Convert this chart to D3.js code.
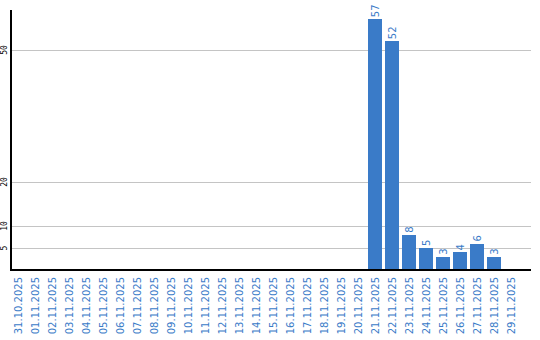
<!DOCTYPE html>
<html>
<head>
<meta charset="utf-8">
<script src="https://cdn.jsdelivr.net/npm/d3@7"></script>
<style>
  body { margin: 0; background: #fff; }
  svg { display: block; }
</style>
</head>
<body>
<svg id="canvas" width="540" height="340"></svg>
<script>
// dates on the x axis
let dates = ['31.10.2025', '01.11.2025', '02.11.2025', '03.11.2025', '04.11.2025',
  '05.11.2025', '06.11.2025', '07.11.2025', '08.11.2025', '09.11.2025',
  '10.11.2025', '11.11.2025', '12.11.2025', '13.11.2025', '14.11.2025',
  '15.11.2025', '16.11.2025', '17.11.2025', '18.11.2025', '19.11.2025',
  '20.11.2025', '21.11.2025', '22.11.2025', '23.11.2025', '24.11.2025',
  '25.11.2025', '26.11.2025', '27.11.2025', '28.11.2025', '29.11.2025']
let counts = [0, 0, 0, 0, 0, 0, 0, 0, 0, 0,
  0, 0, 0, 0, 0, 0, 0, 0, 0, 0,
  0, 57, 52, 8, 5, 3, 4, 6, 3, 0]
let yTicks = [5, 10, 20, 50]

let blue = '#3a7bc8'
let canvas = d3.select('#canvas')

let plotLeft = 11, plotRight = 531, plotTop = 10, plotBottom = 270

let x = d3.scaleBand()
  .domain(dates)
  .range([plotLeft, 518])
  .paddingInner(3 / 17)
  .paddingOuter(0)

let y = d3.scaleLinear()
  .domain([0, 59])
  .range([plotBottom, plotBottom - 59 * 4.4])

// grid lines
canvas.append('g')
  .selectAll('line')
  .data(yTicks)
  .enter()
  .append('line')
  .attr('x1', plotLeft)
  .attr('x2', plotRight)
  .attr('y1', d => Math.round(y(d)) + 0.5)
  .attr('y2', d => Math.round(y(d)) + 0.5)
  .attr('stroke', '#c4c4c4')
  .attr('stroke-width', 1)

// y tick labels, rotated
canvas.append('g')
  .selectAll('text')
  .data(yTicks)
  .enter()
  .append('text')
  .attr('transform', d => 'translate(7,' + y(d) + ') rotate(-90)')
  .attr('text-anchor', 'middle')
  .attr('font-family', 'DejaVu Sans Mono')
  .attr('font-size', '8px')
  .attr('fill', '#000')
  .text(d => d)

// bars
let data = dates.map((d, i) => ({ date: d, value: counts[i] }))
let shown = data.filter(d => d.value > 0)

canvas.append('g')
  .selectAll('rect')
  .data(shown)
  .enter()
  .append('rect')
  .attr('x', d => Math.round(x(d.date)))
  .attr('width', Math.round(x.bandwidth()))
  .attr('y', d => Math.round(y(d.value)))
  .attr('height', d => plotBottom - Math.round(y(d.value)))
  .attr('fill', blue)

// value labels
canvas.append('g')
  .selectAll('text')
  .data(shown)
  .enter()
  .append('text')
  .attr('transform', d => 'translate(' + (Math.round(x(d.date)) + x.bandwidth() / 2 + 3.5) + ',' + (y(d.value) - 2) + ') rotate(-90)')
  .attr('text-anchor', 'start')
  .attr('font-family', 'DejaVu Sans')
  .attr('font-size', '10px')
  .attr('fill', blue)
  .text(d => d.value)

// axis lines
canvas.append('line')
  .attr('x1', plotLeft).attr('x2', plotLeft)
  .attr('y1', plotTop).attr('y2', plotBottom + 1)
  .attr('stroke', '#000').attr('stroke-width', 2)
canvas.append('line')
  .attr('x1', plotLeft - 1).attr('x2', plotRight)
  .attr('y1', plotBottom).attr('y2', plotBottom)
  .attr('stroke', '#000').attr('stroke-width', 2)

// x labels
canvas.append('g')
  .selectAll('text')
  .data(dates)
  .enter()
  .append('text')
  .attr('transform', d => 'translate(' + (Math.round(x(d)) + x.bandwidth() / 2 + 3.5) + ',' + 277 + ') rotate(-90)')
  .attr('text-anchor', 'end')
  .attr('font-family', 'DejaVu Sans')
  .attr('font-size', '10px')
  .attr('fill', blue)
  .text(d => d)
</script>
</body>
</html>
